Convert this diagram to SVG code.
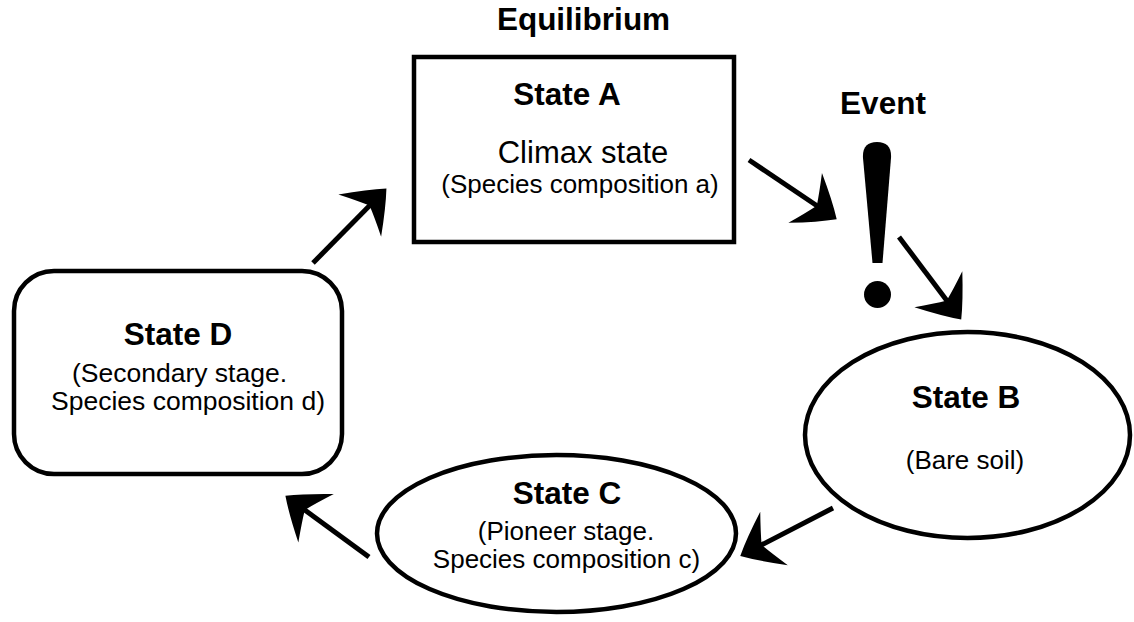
<svg xmlns="http://www.w3.org/2000/svg" width="1134" height="622" viewBox="0 0 1134 622">
  <style>
    .shape { fill: #ffffff; stroke: #000000; stroke-width: 4.5; }
    .title { font-family: "Liberation Sans", Arial, sans-serif; font-weight: bold; font-size: 31.5px; fill: #000000; text-anchor: middle; }
    .big { font-family: "Liberation Sans", Arial, sans-serif; font-size: 31px; fill: #000000; text-anchor: middle; }
    .sub { font-family: "Liberation Sans", Arial, sans-serif; font-size: 26px; fill: #000000; text-anchor: middle; }
    .subd { font-family: "Liberation Sans", Arial, sans-serif; font-size: 26.5px; fill: #000000; text-anchor: middle; }
    .shaft { fill: none; stroke: #000000; stroke-width: 5; marker-end: url(#ah); }
  </style>
  <defs>
    <marker id="ah" markerUnits="userSpaceOnUse" orient="auto" viewBox="-50 -40 70 80" refX="-12" refY="0" markerWidth="70" markerHeight="80" overflow="visible">
      <path d="M 2,0 Q -12,-13 -36,-30 Q -27,-12 -22,0 Q -27,12 -36,30 Q -12,13 2,0 Z" fill="#000000"/>
    </marker>
  </defs>
  <rect width="1134" height="622" fill="#ffffff"/>

  <g id="label-equilibrium">
    <text class="title" x="583.5" y="30">Equilibrium</text>
  </g>

  <g id="node-a">
    <rect class="shape" x="414" y="57" width="320" height="185"/>
    <text class="title" x="567" y="105">State A</text>
    <text class="big" x="583" y="163">Climax state</text>
    <text class="sub" x="580" y="193">(Species composition a)</text>
  </g>

  <g id="event">
    <text class="title" x="883" y="114">Event</text>
    <path d="M 872.5,263 L 863,158 Q 862,142 877,142 Q 892,142 891,158 L 882.5,263 Z" fill="#000000"/>
    <circle cx="877.5" cy="294.5" r="13.5" fill="#000000"/>
  </g>

  <g id="node-b">
    <ellipse class="shape" cx="967.5" cy="435" rx="162.5" ry="103"/>
    <text class="title" x="966" y="408">State B</text>
    <text class="sub" x="965" y="469">(Bare soil)</text>
  </g>

  <g id="node-c">
    <ellipse class="shape" cx="556.5" cy="533.5" rx="179.5" ry="78.5"/>
    <text class="title" x="567" y="504">State C</text>
    <text class="sub" x="566" y="540">(Pioneer stage.</text>
    <text class="sub" x="566.5" y="568">Species composition c)</text>
  </g>

  <g id="node-d">
    <rect class="shape" x="14" y="271" width="328" height="203" rx="40" ry="40"/>
    <text class="title" x="178" y="345">State D</text>
    <text class="subd" x="179.5" y="382">(Secondary stage.</text>
    <text class="subd" x="188" y="410">Species composition d)</text>
  </g>

  <g id="connectors">
    <line class="shaft" x1="749" y1="160" x2="825.1" y2="211.3"/>
    <line class="shaft" x1="899" y1="237" x2="952.8" y2="308.4"/>
    <line class="shaft" x1="833" y1="508" x2="752.7" y2="549.5"/>
    <line class="shaft" x1="369" y1="557" x2="296.7" y2="504.1"/>
    <line class="shaft" x1="313" y1="263" x2="376.6" y2="198.5"/>
  </g>
</svg>
